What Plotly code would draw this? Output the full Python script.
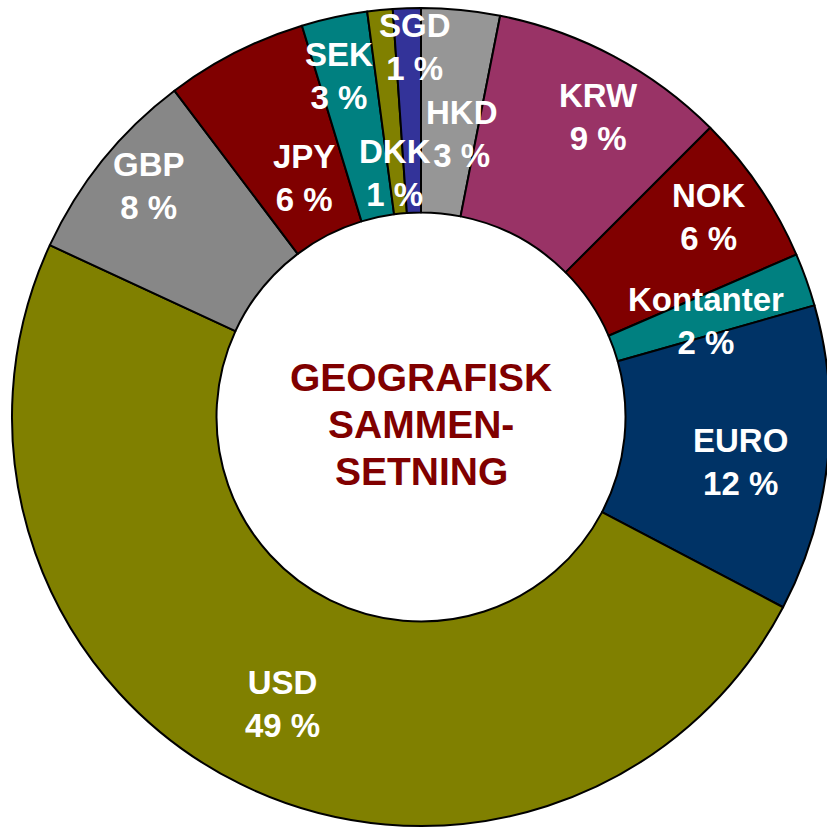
# coding: utf-8
"""
Geografisk sammensetning - donut chart (Plotly)
"""

import numpy as np
import plotly.graph_objects as go

# Data (clockwise from 12 o'clock)
labels = ["HKD", "KRW", "NOK", "Kontanter", "EURO", "USD", "GBP", "JPY", "SEK", "DKK", "SGD"]
values = [3.1, 9.4, 6.0, 2.1, 12.1, 49.2, 7.8, 5.6, 2.6, 1.0, 1.1]

CENTER_LINES = ["GEOGRAFISK", "SAMMEN-", "SETNING"]

COLORS = {
    "HKD": "#969696",
    "KRW": "#993366",
    "NOK": "#800000",
    "Kontanter": "#008080",
    "EURO": "#003366",
    "USD": "#808000",
    "GBP": "#878787",
    "JPY": "#800000",
    "SEK": "#008080",
    "DKK": "#808000",
    "SGD": "#333399",
}

# label placement (fraction of outer radius, angle nudge in degrees)
LABEL_RADIUS = [0.70, 0.853, 0.858, 0.736, 0.79, 0.78, 0.873, 0.652, 0.857, 0.60, 0.905]
LABEL_NUDGE = [2.6, 2.5, -0.6, 1.0, 2.1, -0.5, 1.4, 0.9, -1.3, -0.3, 1.1]

# figure is a bit wider than the window: the donut runs off the right edge
W, H = 831, 829
DOM_X = [12 / W, 830 / W]
DOM_Y = [3 / H, 821 / H]
FONT = "Arial, Liberation Sans, sans-serif"

fig = go.Figure()

fig.add_trace(
    go.Pie(
        labels=labels,
        values=values,
        hole=0.5,
        sort=False,
        direction="clockwise",
        rotation=0,
        marker=dict(colors=[COLORS[l] for l in labels], line=dict(color="black", width=2)),
        textinfo="none",
        hoverinfo="label+percent",
        domain=dict(x=DOM_X, y=DOM_Y),
        showlegend=False,
    )
)

# pie geometry in pixels
w_px = (DOM_X[1] - DOM_X[0]) * W
h_px = (DOM_Y[1] - DOM_Y[0]) * H
R = min(w_px, h_px) / 2
cx = (DOM_X[0] + DOM_X[1]) / 2 * W
cy = (DOM_Y[0] + DOM_Y[1]) / 2 * H  # from bottom

total = sum(values)
cum = np.cumsum([0] + values[:-1])
annotations = []
for i, (lab, v) in enumerate(zip(labels, values)):
    mid = (cum[i] + v / 2) / total * 360 + LABEL_NUDGE[i]
    r = LABEL_RADIUS[i] * R
    x = cx + r * np.sin(np.radians(mid))
    y = cy + r * np.cos(np.radians(mid))
    annotations.append(
        dict(
            x=x / W, y=y / H, xref="paper", yref="paper",
            text=f"<b>{lab}<br>{round(v / total * 100)} %</b>",
            showarrow=False, xanchor="center", yanchor="middle",
            font=dict(family=FONT, size=33, color="white"),
        )
    )

# centre title, one annotation per line (tighter line spacing than <br>)
for i, line in enumerate(CENTER_LINES):
    annotations.append(
        dict(
            x=cx / W, y=cy / H, xref="paper", yref="paper",
            text=f"<b>{line}</b>",
            showarrow=False, xanchor="center", yanchor="middle",
            yshift=-7 + (1 - i) * 47,
            font=dict(family=FONT, size=39, color="#800000"),
        )
    )

fig.update_layout(
    width=W,
    height=H,
    margin=dict(l=0, r=0, t=0, b=0),
    paper_bgcolor="white",
    plot_bgcolor="white",
    annotations=annotations,
)

# no page margin / scrollbars so the chart sits at the window's top-left corner
fig.write_html(
    "out.html",
    config={"displayModeBar": False},
    post_script="document.body.style.margin='0';document.body.style.overflow='hidden';",
)
